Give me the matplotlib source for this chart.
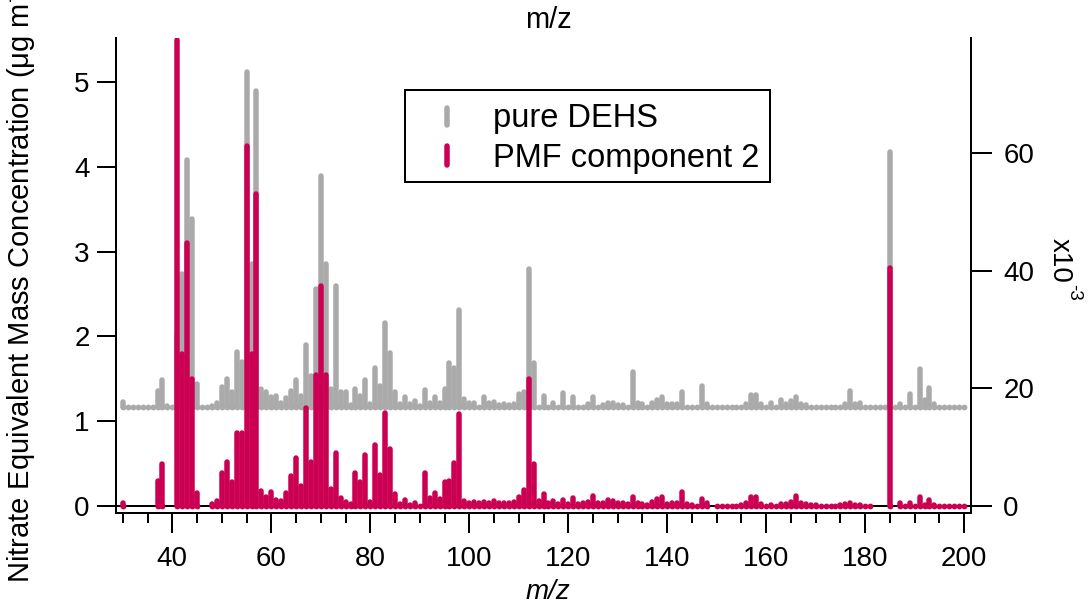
import numpy as np
import matplotlib
matplotlib.use("Agg")
import matplotlib.pyplot as plt
from matplotlib.lines import Line2D
from matplotlib.patches import Rectangle

plt.rcParams['font.family'] = ['Liberation Sans', 'DejaVu Sans']
plt.rcParams['mathtext.fontset'] = 'custom'
plt.rcParams['mathtext.rm'] = 'Liberation Sans'
plt.rcParams['mathtext.it'] = 'Liberation Sans:italic'

# ---------------- data ----------------
mz = np.arange(30, 201)

# pure DEHS (left axis, drawn from an offset baseline)
dehs_base = 1.17
dehs = [
    1.23, 1.17, 1.17, 1.17, 1.17, 1.17, 1.17, 1.36, 1.49, 1.18,   # 30-39
    1.17, 2.00, 2.74, 4.08, 3.38, 1.44, 1.17, 1.17, 1.18, 1.22,   # 40-49
    1.40, 1.50, 1.35, 1.82, 1.70, 5.12, 2.86, 4.90, 1.38, 1.35,   # 50-59
    1.29, 1.30, 1.22, 1.27, 1.36, 1.49, 1.30, 1.90, 1.53, 2.56,   # 60-69
    3.89, 2.85, 1.38, 2.60, 1.34, 1.34, 1.19, 1.38, 1.30, 1.48,   # 70-79
    1.20, 1.63, 1.42, 2.16, 1.80, 1.34, 1.20, 1.28, 1.20, 1.24,   # 80-89
    1.18, 1.37, 1.22, 1.28, 1.22, 1.38, 1.69, 1.63, 2.31, 1.26,   # 90-99
    1.21, 1.21, 1.17, 1.28, 1.21, 1.23, 1.19, 1.20, 1.19, 1.20,   # 100-109
    1.32, 1.34, 2.80, 1.69, 1.17, 1.30, 1.17, 1.22, 1.17, 1.33,   # 110-119
    1.17, 1.28, 1.17, 1.17, 1.20, 1.28, 1.17, 1.19, 1.21, 1.21,   # 120-129
    1.19, 1.19, 1.17, 1.58, 1.21, 1.20, 1.17, 1.21, 1.25, 1.28,   # 130-139
    1.20, 1.20, 1.20, 1.34, 1.17, 1.17, 1.17, 1.42, 1.20, 1.17,   # 140-149
    1.17, 1.17, 1.17, 1.17, 1.17, 1.17, 1.20, 1.31, 1.31, 1.20,   # 150-159
    1.17, 1.21, 1.17, 1.25, 1.20, 1.24, 1.29, 1.20, 1.19, 1.17,   # 160-169
    1.17, 1.17, 1.17, 1.17, 1.17, 1.17, 1.20, 1.36, 1.20, 1.21,   # 170-179
    1.17, 1.17, 1.17, 1.17, 1.17, 4.17, 1.17, 1.20, 1.17, 1.32,   # 180-189
    1.17, 1.61, 1.25, 1.39, 1.20, 1.17, 1.17, 1.17, 1.17, 1.17,   # 190-199
    1.17,                                                          # 200
]

nan = np.nan
# PMF component 2 (left axis units)
pmf2 = [
    0.04, nan, nan, nan, nan, nan, nan, 0.29, 0.50, nan,          # 30-39
    nan, 5.50, 1.79, 3.10, 1.50, 0.15, nan, nan, 0.02, 0.06,      # 40-49
    0.39, 0.52, 0.28, 0.86, 0.86, 4.25, 1.79, 3.68, 0.18, 0.11,   # 50-59
    0.16, 0.07, 0.06, 0.15, 0.35, 0.57, 0.23, 1.16, 0.52, 1.55,   # 60-69
    2.60, 1.55, 0.20, 0.62, 0.09, 0.05, 0.02, 0.39, 0.28, 0.60,   # 70-79
    0.05, 0.72, 0.36, 1.10, 0.67, 0.14, 0.02, 0.07, 0.01, 0.04,   # 80-89
    0.00, 0.39, 0.09, 0.15, 0.08, 0.28, 0.29, 0.51, 1.08, 0.06,   # 90-99
    0.04, 0.05, 0.03, 0.05, 0.04, 0.06, 0.03, 0.04, 0.03, 0.05,   # 100-109
    0.11, 0.19, 1.50, 0.49, 0.06, 0.14, 0.04, 0.06, 0.02, 0.07,   # 110-119
    0.02, 0.09, 0.02, 0.03, 0.05, 0.12, 0.03, 0.04, 0.07, 0.06,   # 120-129
    0.03, 0.03, 0.02, 0.11, 0.03, 0.02, 0.01, 0.05, 0.08, 0.10,   # 130-139
    0.02, 0.04, 0.03, 0.17, 0.02, 0.01, 0.00, 0.08, 0.04, nan,    # 140-149
    0.00, 0.00, 0.00, 0.00, 0.00, 0.01, 0.03, 0.11, 0.11, 0.02,   # 150-159
    0.00, 0.01, 0.00, 0.02, 0.02, 0.05, 0.12, 0.03, 0.02, 0.01,   # 160-169
    0.01, 0.00, 0.00, 0.00, 0.00, 0.01, 0.02, 0.04, 0.01, 0.01,   # 170-179
    0.00, 0.00, nan, nan, nan, 2.81, nan, 0.03, 0.00, 0.04,       # 180-189
    0.00, 0.11, 0.01, 0.07, 0.01, 0.00, 0.00, 0.00, 0.00, 0.00,   # 190-199
    0.00,                                                          # 200
]

series_labels = ['pure DEHS', 'PMF component 2']
x_major = [40, 60, 80, 100, 120, 140, 160, 180, 200]
y_left_ticks = [0, 1, 2, 3, 4, 5]
y_right_ticks = [0, 20, 40, 60]
right_scale = 14.406   # right-axis units (x10^-3) per left-axis unit

# ---------------- style ----------------
GRAY = '#AAAAAA'
PINK = '#CC0052'
PX = 72.0 / 100.0          # points per pixel at dpi 100
BAR_W = 5.5 * PX
FS = 20

fig = plt.figure(figsize=(10.91, 6.08), dpi=100)
ax = fig.add_axes([0.1061, 0.15625, 0.7840, 0.78125])

dehs = np.array(dehs, dtype=float)
pmf2 = np.array(pmf2, dtype=float)

# gray sticks from offset baseline
gl = ax.vlines(mz, dehs_base, dehs, colors=GRAY, linewidth=BAR_W, zorder=2)
gl.set_capstyle('round')
ax.plot(mz, np.full(mz.shape, dehs_base), 'o', color=GRAY,
        ms=5.8 * PX, mew=0, zorder=2)

# zero line
ax.axhline(0, color='black', lw=2 * PX, zorder=3)

# pink sticks
ok = ~np.isnan(pmf2)
pl = ax.vlines(mz[ok], 0, pmf2[ok], colors=PINK, linewidth=BAR_W, zorder=4)
pl.set_capstyle('round')
ax.plot(mz[ok], np.zeros(ok.sum()), 'o', color=PINK,
        ms=5.8 * PX, mew=0, zorder=4)

ax.set_xlim(28.56, 201.41)
ax.set_ylim(-0.083, 5.52)

for s in ['left', 'right', 'bottom']:
    ax.spines[s].set_linewidth(2 * PX)
ax.spines['top'].set_visible(False)

ax.set_xticks(x_major)
ax.set_xticks(np.arange(30, 201, 5), minor=True)
ax.tick_params(axis='x', which='major', direction='out', length=20 * PX,
               width=2 * PX, labelsize=FS, pad=9)
ax.tick_params(axis='x', which='minor', direction='out', length=10 * PX,
               width=2 * PX)
ax.set_yticks(y_left_ticks)
ax.tick_params(axis='y', which='major', direction='out', length=19 * PX,
               width=2 * PX, labelsize=FS, pad=5)

ax2 = ax.twinx()
lo, hi = ax.get_ylim()
ax2.set_ylim(lo * right_scale, hi * right_scale)
ax2.set_yticks(y_right_ticks)
ax2.tick_params(axis='y', which='major', direction='out', length=21 * PX,
                width=2 * PX, labelsize=FS, pad=8)
for s in ['left', 'right', 'bottom', 'top']:
    ax2.spines[s].set_visible(False)
ax2.spines['right'].set_visible(True)
ax2.spines['right'].set_linewidth(2 * PX)

ax.set_ylabel('Nitrate Equivalent Mass Concentration (μg m$^{-3}$)',
              fontsize=21)
ax.yaxis.set_label_coords(-0.091, 0.5)

# right axis multiplier label
fig.text(1060 / 1091, 1 - 260 / 608, 'x10', rotation=-90,
         ha='center', va='center', fontsize=FS)
fig.text(1074 / 1091, 1 - 292 / 608, '-3', rotation=-90,
         ha='center', va='center', fontsize=13.5)

fig.text(548 / 1091, 1 - 20 / 608, 'm/z', ha='center', va='center',
         fontsize=21)
fig.text(548 / 1091, 1 - 592 / 608, 'm/z', ha='center', va='center',
         fontsize=FS, style='italic')

# legend (manual box)
fig.add_artist(Rectangle((405 / 1091, 1 - 182 / 608), 365 / 1091, 92 / 608,
                         transform=fig.transFigure, facecolor='white',
                         edgecolor='black', lw=2 * PX, zorder=10))
for (ya, yb), col, lab, yb_text in [((107.75, 125.25), GRAY, series_labels[0], 126.7),
                                     ((145.75, 165.25), PINK, series_labels[1], 167.3)]:
    ln = Line2D([446.7 / 1091, 446.7 / 1091], [1 - ya / 608, 1 - yb / 608],
                transform=fig.transFigure, color=col, lw=BAR_W,
                solid_capstyle='round', zorder=11)
    fig.add_artist(ln)
    fig.text(493 / 1091, 1 - yb_text / 608, lab, ha='left', va='baseline',
             fontsize=23.5, zorder=12)

fig.savefig('out.png', dpi=100)
